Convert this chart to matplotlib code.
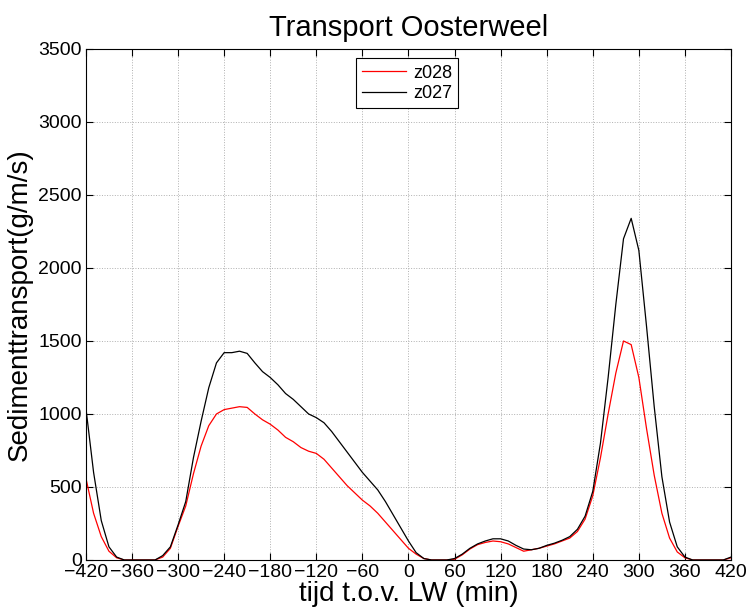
import numpy as np
import matplotlib
matplotlib.use("Agg")
import matplotlib.pyplot as plt

plt.rcParams['font.family'] = ['Liberation Sans', 'DejaVu Sans']

time_min = list(range(-420, 421, 10))

z027 = [1040, 600, 270, 90, 20, 0, 0, 0, 0, 0,
        30, 90, 240, 400, 700, 950, 1180, 1350, 1420, 1420,
        1430, 1415, 1350, 1290, 1250, 1200, 1140, 1100, 1050, 1000,
        975, 940, 880, 810, 740, 670, 600, 540, 480, 400,
        310, 220, 130, 50, 10, 0, 0, 0, 10, 40,
        80, 110, 130, 145, 145, 130, 100, 75, 70, 80,
        100, 115, 135, 160, 210, 300, 470, 800, 1250, 1750,
        2200, 2340, 2120, 1600, 1050, 570, 260, 90, 20, 0,
        0, 0, 0, 0, 20]

z028 = [560, 320, 160, 60, 15, 0, 0, 0, 0, 0,
        20, 80, 230, 370, 590, 780, 920, 1000, 1030, 1040,
        1050, 1045, 1000, 960, 930, 890, 840, 810, 770, 745,
        730, 690, 630, 570, 510, 460, 410, 370, 320, 260,
        200, 140, 80, 40, 10, 0, 0, 0, 5, 35,
        75, 105, 120, 130, 125, 110, 85, 60, 70, 80,
        95, 110, 130, 150, 195, 280, 440, 700, 1000, 1280,
        1500, 1475, 1250, 900, 580, 320, 150, 55, 15, 0,
        0, 0, 0, 0, 15]

xticks = list(range(-420, 421, 60))
yticks = list(range(0, 3501, 500))

fig = plt.figure(figsize=(7.47, 6.10), dpi=100)
ax = fig.add_axes([0.115, 0.082, 0.8636, 0.8377])

ax.plot(time_min, z028, color='red', lw=0.9, label='z028')
ax.plot(time_min, z027, color='black', lw=0.9, label='z027')

ax.set_xlim(-420, 420)
ax.set_ylim(0, 3500)
ax.set_xticks(xticks)
ax.set_yticks(yticks)
ax.tick_params(direction='in', top=True, right=True, labelsize=14, length=5, width=0.8, pad=3)
ax.grid(True, linestyle=':', color='#b0b0b0', lw=0.7)
for s in ax.spines.values():
    s.set_linewidth(0.8)

ax.set_title('Transport Oosterweel', fontsize=21, pad=9)
ax.set_xlabel('tijd t.o.v. LW (min)', fontsize=20, labelpad=0)
ax.set_ylabel('Sedimenttransport(g/m/s)', fontsize=20, labelpad=4)

leg = ax.legend(loc='upper center', bbox_to_anchor=(0.498, 0.982), fontsize=13,
                fancybox=False, edgecolor='black', framealpha=1, borderaxespad=0,
                handlelength=2.4, borderpad=0.35, labelspacing=0.2, handletextpad=0.4)
leg.get_frame().set_linewidth(0.8)

fig.savefig('out.png', dpi=100)
